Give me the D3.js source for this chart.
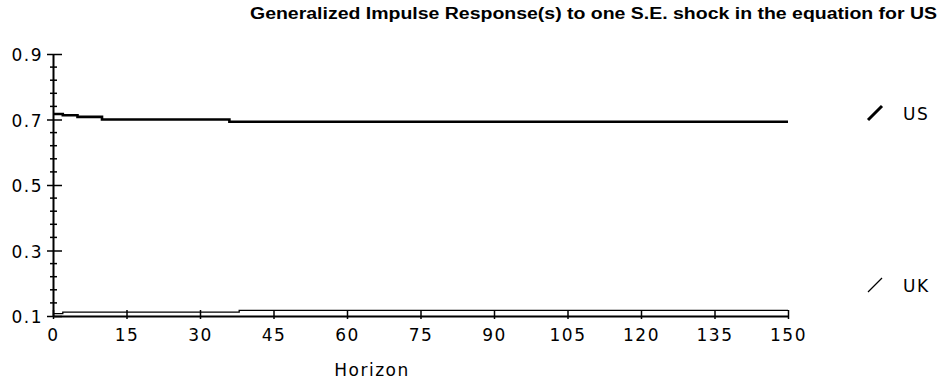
<!DOCTYPE html>
<html>
<head>
<meta charset="utf-8">
<script src="https://cdn.jsdelivr.net/npm/d3@7"></script>
<style>
  body { margin: 0; background: #fff; }
  text { fill: #000; }
</style>
</head>
<body>
<svg id="chart" width="942" height="383"></svg>
<script>
// values (step changes only)
let horizon = [0, 2, 5, 10, 36, 38, 150];
let usValues = [0.717, 0.713, 0.708, 0.700, 0.693, 0.693, 0.693];
let ukValues = [0.107, 0.112, 0.112, 0.112, 0.112, 0.117, 0.117];

let xTicks = [0, 15, 30, 45, 60, 75, 90, 105, 120, 135, 150];
let yTicks = [0.1, 0.3, 0.5, 0.7, 0.9];
let yMinor = [0.14, 0.18, 0.22, 0.26, 0.34, 0.38, 0.42, 0.46, 0.54, 0.58, 0.62, 0.66, 0.74, 0.78, 0.82, 0.86];
let seriesNames = ["US", "UK"];

const labelFont = "'DejaVu Sans', sans-serif";

let svg = d3.select("#chart");

let x = d3.scaleLinear().domain([0, 150]).range([53, 788]);
let y = d3.scaleLinear().domain([0.1, 0.9]).range([316, 54]);

// title
svg.append("text")
    .attr("x", 250)
    .attr("y", 19)
    .attr("textLength", 687)
    .attr("lengthAdjust", "spacingAndGlyphs")
    .style("font-family", "'Liberation Sans', Arial, sans-serif")
    .style("font-size", "16px")
    .style("font-weight", "bold")
    .text("Generalized Impulse Response(s) to one S.E. shock in the equation for US");

// minor y ticks
svg.append("g")
    .selectAll("line")
    .data(yMinor)
    .join("line")
    .attr("x1", 50)
    .attr("x2", 57)
    .attr("y1", d => y(d))
    .attr("y2", d => y(d))
    .attr("stroke", "#000")
    .attr("stroke-width", 1.5);

// y axis
let yAxis = svg.append("g")
    .attr("transform", "translate(53,0)")
    .call(d3.axisLeft(y).tickValues(yTicks).tickFormat(d3.format(".1f")).tickSize(6).tickSizeOuter(0));
yAxis.select(".domain").attr("stroke-width", 2);
yAxis.selectAll(".tick line").attr("x1", 9).attr("x2", -6).attr("stroke-width", 1.5);
yAxis.selectAll(".tick text")
    .attr("x", -10)
    .attr("dy", "0.4em")
    .style("font-family", labelFont)
    .style("font-size", "17px")
    .style("letter-spacing", "1.5px");

// x axis
let xAxis = svg.append("g")
    .attr("transform", "translate(0,316)")
    .call(d3.axisBottom(x).tickValues(xTicks).tickSize(3).tickSizeOuter(0));
xAxis.select(".domain").attr("stroke-width", 2);
xAxis.selectAll(".tick line").attr("y1", -6).attr("y2", 3).attr("stroke-width", 1.5);
xAxis.selectAll(".tick text")
    .attr("y", 13)
    .style("font-family", labelFont)
    .style("font-size", "17px")
    .style("letter-spacing", "1.5px");

svg.append("text")
    .attr("x", 372)
    .attr("y", 376)
    .attr("text-anchor", "middle")
    .style("font-family", labelFont)
    .style("font-size", "17px")
    .style("letter-spacing", "1.5px")
    .text("Horizon");

// series
let line = d3.line()
    .x((d, i) => x(horizon[i]))
    .y(d => y(d))
    .curve(d3.curveStepAfter);

svg.append("path")
    .datum(ukValues)
    .attr("fill", "none")
    .attr("stroke", "#000")
    .attr("stroke-width", 1.3)
    .attr("d", line);

svg.append("path")
    .datum(usValues)
    .attr("fill", "none")
    .attr("stroke", "#000")
    .attr("stroke-width", 2.6)
    .attr("d", line);

// legend
let legendY = [113, 285];
let legendW = [3, 1.2];
let legend = svg.append("g")
    .selectAll("g")
    .data(seriesNames)
    .join("g")
    .attr("transform", (d, i) => "translate(868," + legendY[i] + ")");
legend.append("line")
    .attr("x1", 0).attr("y1", 7)
    .attr("x2", 14).attr("y2", -7)
    .attr("stroke", "#000")
    .attr("stroke-width", (d, i) => legendW[i]);
legend.append("text")
    .attr("x", 35)
    .attr("y", 7)
    .style("font-family", labelFont)
    .style("font-size", "17px")
    .style("letter-spacing", "1.5px")
    .text(d => d);
</script>
</body>
</html>
